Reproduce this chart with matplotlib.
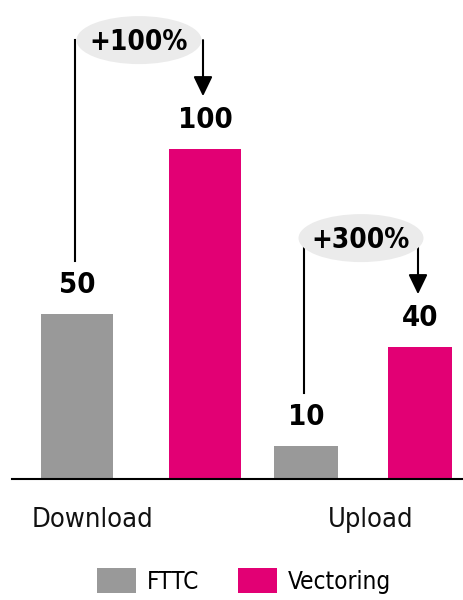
import matplotlib
matplotlib.use("Agg")
import matplotlib.pyplot as plt
from matplotlib import font_manager as fm
from matplotlib.patches import Ellipse, Patch

# look for a condensed sans face, fall back to Liberation Sans
def pick_font(bold):
    best = None
    for f in fm.fontManager.ttflist:
        name = f.name.lower()
        narrow = ('condensed' in name or 'narrow' in name or
                  f.stretch in ('condensed', 'semi-condensed', 'extra-condensed'))
        if not narrow or 'mono' in name or 'serif' in name and 'sans' not in name:
            continue
        if 'italic' in f.style or f.style != 'normal':
            continue
        w = f.weight if isinstance(f.weight, int) else 400
        if bold and w != 700:
            continue
        if not bold and w != 400:
            continue
        if f.stretch == 'extra-condensed':
            continue
        best = f.fname
        if 'liberation' in name or 'dejavu' in name:
            break
    if best:
        return fm.FontProperties(fname=best)
    return fm.FontProperties(family='Liberation Sans',
                             weight='bold' if bold else 'normal')

font_reg = pick_font(False)
font_bold = pick_font(True)

# data
categories = ['Download', 'Upload']
fttc = [50, 10]
vectoring = [100, 40]
gains = ['+100%', '+300%']
series_names = ['FTTC', 'Vectoring']

gray = '#999999'
magenta = '#E20074'

# layout (x in pixel-like units, y in data units)
px_per_unit = 3.3
base_px = 479
group_x = [141, 363]
offsets = [64, 57]
widths = [72, 64]

fig = plt.figure(figsize=(4.64, 6), dpi=100)
ax = fig.add_axes([0, 0, 1, 1])
ax.set_xlim(0, 464)
ax.set_ylim(-(600 - base_px) / px_per_unit, base_px / px_per_unit)
ax.axis('off')

for i in range(len(categories)):
    x1 = group_x[i] - offsets[i]
    x2 = group_x[i] + offsets[i]
    ax.bar(x1, fttc[i], width=widths[i], color=gray, zorder=2)
    ax.bar(x2, vectoring[i], width=widths[i], color=magenta, zorder=2)

    ax.text(x1, fttc[i] + 6.5, str(fttc[i]), ha='center', va='baseline',
            fontproperties=font_bold, fontsize=21)
    ax.text(x2, vectoring[i] + 6.5, str(vectoring[i]), ha='center', va='baseline',
            fontproperties=font_bold, fontsize=21)

    # bracket with arrow
    top = vectoring[i] + 33
    ax.plot([x1 - 2, x1 - 2], [fttc[i] + 16, top], color='black', lw=1.5, zorder=3)
    ax.annotate('', xy=(x2 - 2, vectoring[i] + 16), xytext=(x2 - 2, top),
                arrowprops=dict(arrowstyle='-|>,head_length=0.6,head_width=0.29',
                                mutation_scale=20, lw=1.5, color='black',
                                shrinkA=0, shrinkB=0), zorder=3)
    mid = (x1 + x2) / 2 - 2
    ax.add_patch(Ellipse((mid, top), 125, 48 / px_per_unit,
                         facecolor='#EBEBEB', edgecolor='none', zorder=4))
    ax.text(mid, top - 3.0, gains[i], ha='center', va='baseline',
            fontproperties=font_bold, fontsize=20, zorder=5)

# baseline
ax.plot([12, 464], [0, 0], color='black', lw=1.5, zorder=3)

# category labels
cat_x = [93, 371]
for i, c in enumerate(categories):
    ax.text(cat_x[i], -(527 - base_px) / px_per_unit, c, ha='center',
            va='baseline', fontproperties=font_reg, fontsize=19.5, color='#111111')

handles = [Patch(facecolor=gray), Patch(facecolor=magenta)]
leg_font = font_reg.copy()
leg_font.set_size(17.5)
fig.legend(handles, series_names, loc='center', bbox_to_anchor=(244 / 464, 19 / 600),
           ncol=2, frameon=False, prop=leg_font, handlelength=1.6, handleheight=1.2,
           handletextpad=0.45, columnspacing=1.6, borderpad=0)

fig.savefig('out.png', dpi=100)
